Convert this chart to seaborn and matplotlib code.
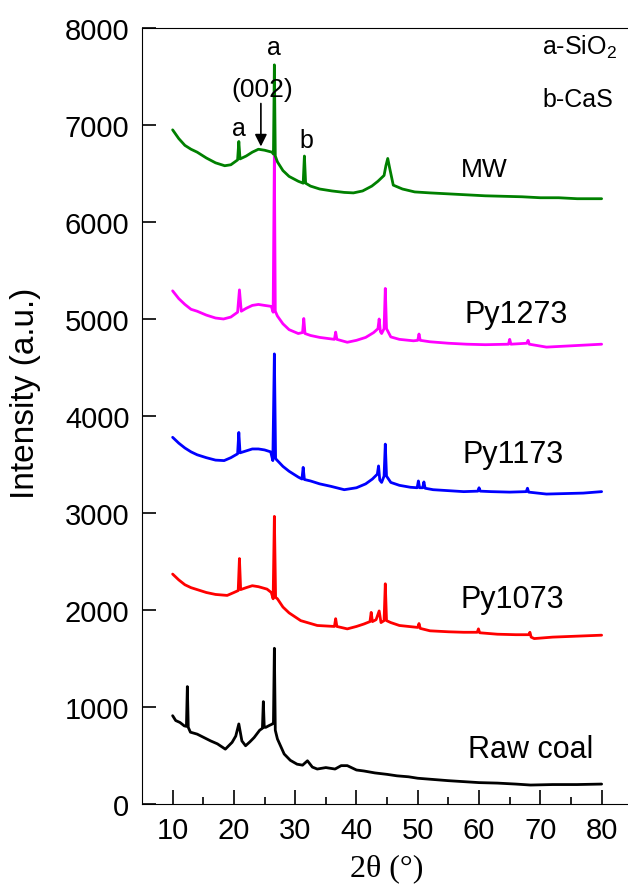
# XRD patterns of raw coal and the pyrolysed / microwave chars
import numpy as np
import pandas as pd
import matplotlib
matplotlib.use("AGG")
import matplotlib.pyplot as plt
import seaborn as sns

# 2theta (deg) and intensity, one pair of lists per sample
raw_x = [10, 10.5, 11.2, 11.9, 12.25, 12.4, 12.55, 12.9, 14, 15.1, 16.2, 17.3,
         18.6, 19.7, 20.3, 20.8, 21.3, 21.9, 22.6, 23.3, 24.2, 24.65, 24.8, 24.95,
         25.2, 25.8, 26.3, 26.45, 26.6, 26.75, 27.1, 28.2, 29.2, 30.3, 31.2, 32.0,
         32.8, 33.6, 35, 36.5, 37.5, 38.5, 40, 41.2, 43, 45, 46.6, 48.5,
         50, 52, 55, 57.5, 60, 63, 66, 68.4, 72, 76, 80]
raw_y = [910, 860, 840, 805, 800, 1210, 790, 740, 720, 685, 650, 620,
         565, 635, 700, 825, 650, 600, 640, 685, 760, 780, 1055, 790,
         790, 810, 825, 840, 1605, 760, 670, 515, 450, 410, 400, 445,
         380, 360, 375, 360, 395, 395, 350, 340, 320, 305, 290, 280,
         265, 255, 240, 230, 220, 215, 205, 195, 200, 200, 205]

py1073_x = [10, 11, 12, 13, 14, 15.5, 17, 18.9, 20, 20.7, 20.9, 21.1,
            22, 23, 24, 25.4, 26.1, 26.4, 26.6, 26.8, 27.1, 28, 29, 30.9,
            33.6, 36.4, 36.6, 36.8, 38.5, 40, 41.2, 42.2, 42.4, 42.6, 43.2, 43.7,
            44.0, 44.5, 44.7, 44.9, 45.6, 47, 50.0, 50.2, 50.4, 52, 55, 57.5,
            59.7, 59.9, 60.1, 63, 66, 68.1, 68.3, 68.5, 69, 72, 76, 80]
py1073_y = [2370, 2310, 2260, 2230, 2210, 2180, 2160, 2150, 2180, 2200, 2530, 2210,
            2230, 2250, 2240, 2215, 2180, 2115, 2965, 2130, 2115, 2030, 1970, 1890,
            1840, 1830, 1910, 1830, 1805, 1830, 1855, 1880, 1975, 1880, 1900, 1990,
            1870, 1890, 2270, 1890, 1870, 1840, 1820, 1860, 1810, 1785, 1775, 1770,
            1770, 1805, 1765, 1750, 1745, 1745, 1770, 1720, 1705, 1720, 1730, 1740]

py1173_x = [10, 11, 12, 13, 14, 15.5, 17, 18.4, 19.5, 20.6, 20.8, 21.0,
            22, 23, 24, 25, 26.0, 26.35, 26.6, 26.8, 27.1, 28, 29, 30.5,
            31.1, 31.3, 31.5, 32.5, 34, 35.8, 38, 40, 41.5, 42.6, 43.4, 43.6,
            43.8, 44.1, 44.5, 44.7, 44.9, 45.6, 47, 48.8, 49.9, 50.1, 50.3, 50.8,
            51.0, 51.2, 52.5, 55, 57.5, 59.8, 60.0, 60.2, 62, 65, 67.7, 67.9,
            68.1, 71, 74, 77, 80]
py1173_y = [3780, 3720, 3670, 3630, 3600, 3570, 3545, 3540, 3570, 3610, 3830, 3620,
            3640, 3660, 3660, 3650, 3630, 3540, 4640, 3560, 3540, 3480, 3430, 3370,
            3350, 3470, 3345, 3330, 3300, 3275, 3240, 3260, 3300, 3350, 3400, 3485,
            3340, 3315, 3380, 3710, 3380, 3315, 3285, 3265, 3260, 3330, 3260, 3260,
            3320, 3255, 3240, 3230, 3220, 3225, 3260, 3225, 3220, 3215, 3220, 3255,
            3215, 3195, 3200, 3205, 3220]

py1273_x = [10, 11, 12, 13, 14, 15.5, 17, 18.3, 19.5, 20.6, 20.9, 21.2,
            22, 23, 24, 25, 26.1, 26.4, 26.6, 26.75, 27.1, 28, 29, 30.5,
            31.2, 31.4, 31.6, 32.5, 34, 35.8, 36.4, 36.6, 36.8, 38.5, 40, 41.5,
            42.8, 43.5, 43.7, 43.9, 44.1, 44.5, 44.7, 44.9, 45.6, 47, 49.3, 50.0,
            50.2, 50.4, 52, 55, 58, 61, 64.8, 65.0, 65.2, 67.8, 68, 68.2,
            71, 74, 77, 80]
py1273_y = [5290, 5210, 5150, 5100, 5080, 5040, 5010, 5000, 5020, 5070, 5300, 5080,
            5110, 5140, 5150, 5140, 5130, 5070, 6700, 5080, 5030, 4950, 4890, 4850,
            4860, 5005, 4850, 4830, 4810, 4795, 4790, 4865, 4790, 4760, 4780, 4810,
            4860, 4900, 5000, 4870, 4850, 4900, 5315, 4900, 4815, 4790, 4775, 4780,
            4845, 4780, 4765, 4750, 4740, 4735, 4740, 4790, 4740, 4750, 4780, 4740,
            4710, 4720, 4730, 4740]

mw_x = [10, 11, 12, 13, 14, 15.5, 17, 18.5, 19.5, 20.6, 20.8, 21.0,
        22, 23, 24, 25, 26.2, 26.45, 26.6, 26.75, 27.1, 28, 29, 30.5,
        31.3, 31.5, 31.7, 32.5, 34, 36, 38, 39.5, 41, 42.5, 43.5, 44.5,
        44.8, 45.1, 45.4, 46, 47.5, 49.5, 52, 55, 58, 61, 64, 67,
        70, 73, 76, 80]
mw_y = [6950, 6860, 6790, 6750, 6720, 6660, 6610, 6580, 6590, 6640, 6830, 6650,
        6680, 6720, 6750, 6740, 6720, 6700, 7620, 6680, 6620, 6530, 6470, 6420,
        6400, 6680, 6400, 6370, 6340, 6320, 6305, 6300, 6320, 6370, 6420, 6480,
        6580, 6655, 6560, 6380, 6340, 6310, 6300, 6290, 6280, 6270, 6265, 6260,
        6250, 6250, 6240, 6240]

samples = ["Raw coal", "Py1073", "Py1173", "Py1273", "MW"]
colors = ["black", "#ff0000", "#0000ff", "#ff00ff", "#008000"]
series = [(raw_x, raw_y), (py1073_x, py1073_y), (py1173_x, py1173_y),
          (py1273_x, py1273_y), (mw_x, mw_y)]

frames = []
for name, (xs, ys) in zip(samples, series):
    frames.append(pd.DataFrame({"two_theta": xs, "intensity": ys, "sample": name}))
df = pd.concat(frames, ignore_index=True)

sns.set_style("ticks")
plt.rcParams["font.family"] = ["Liberation Sans", "DejaVu Sans"]
plt.rcParams["mathtext.default"] = "regular"
for key in ["text.color", "axes.labelcolor", "xtick.color", "ytick.color",
            "axes.edgecolor"]:
    plt.rcParams[key] = "black"
plt.rcParams.update({
    "xtick.direction": "in", "ytick.direction": "in",
    "xtick.major.size": 10, "ytick.major.size": 10,
    "xtick.minor.size": 5, "ytick.minor.size": 5,
    "xtick.major.width": 1.2, "ytick.major.width": 1.2,
    "xtick.minor.width": 1.2, "xtick.minor.visible": False,
    "xtick.bottom": True, "ytick.left": True,
    "axes.axisbelow": False,
    "xtick.labelsize": 21, "ytick.labelsize": 21,
    "xtick.major.pad": 9, "ytick.major.pad": 9,
})

fig = plt.figure(figsize=(6.28, 8.87), dpi=100)
ax = fig.add_axes([0.2261, 0.0925, 0.7807, 0.8748])

sns.lineplot(data=df, x="two_theta", y="intensity", hue="sample",
             hue_order=samples, palette=dict(zip(samples, colors)),
             estimator=None, sort=False, legend=False, linewidth=2.0, ax=ax)

ax.set_xlim(5, 85)
ax.set_ylim(0, 8000)
ax.set_xticks(np.arange(10, 81, 10))
ax.set_xticks(np.arange(15, 80, 10), minor=True)
ax.set_yticks(np.arange(0, 8001, 1000))
ax.spines["right"].set_visible(False)

ax.set_xlabel("2θ (°)", family=["Liberation Serif", "DejaVu Serif"], fontsize=23,
              labelpad=6)
ax.set_ylabel("Intensity (a.u.)", fontsize=24)
ax.yaxis.set_label_coords(-0.205, 0.53)

# phase markers
ax.text(26.6, 7800, "a", fontsize=18, ha="center", va="center")
ax.text(24.7, 7370, "(002)", fontsize=19, ha="center", va="center")
ax.text(20.8, 6970, "a", fontsize=18, ha="center", va="center")
ax.text(31.9, 6845, "b", fontsize=18, ha="center", va="center")
ax.annotate("", xy=(24.4, 6750), xytext=(24.4, 7250),
            arrowprops=dict(arrowstyle="-|>", color="black", lw=1.2,
                            mutation_scale=18))
ax.text(70.3, 7815, "a-SiO$_2$", fontsize=18, ha="left", va="center")
ax.text(70.3, 7270, "b-CaS", fontsize=18, ha="left", va="center")

# sample names
ax.text(60.9, 6545, "MW", fontsize=19, ha="center", va="center")
ax.text(66.0, 5050, "Py1273", fontsize=22, ha="center", va="center")
ax.text(65.5, 3610, "Py1173", fontsize=22, ha="center", va="center")
ax.text(65.5, 2115, "Py1073", fontsize=22, ha="center", va="center")
ax.text(68.4, 565, "Raw coal", fontsize=22, ha="center", va="center")

# tick marks last, and kept above everything else in the axes
ax.tick_params(axis="x", which="major", direction="in", length=10, width=1.2,
               bottom=True, color="black")
ax.tick_params(axis="x", which="minor", direction="in", length=5, width=1.2,
               bottom=True, color="black")
ax.tick_params(axis="y", which="major", direction="in", length=10, width=1.2,
               left=True, color="black")
ax.xaxis.set_zorder(10)
ax.yaxis.set_zorder(10)

fig.canvas.draw()
plt.savefig("out.png", format="png", dpi=100)
